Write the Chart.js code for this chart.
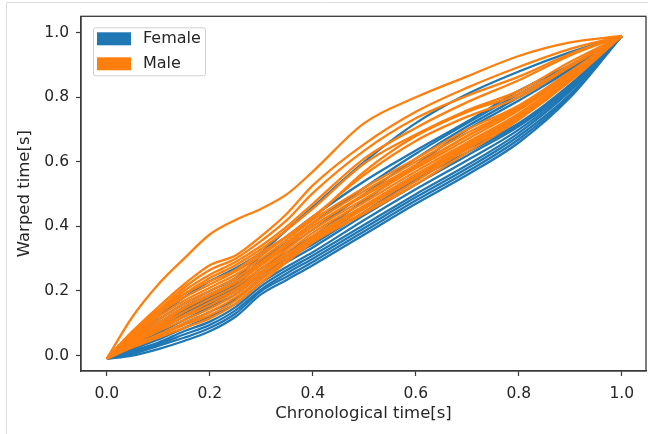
<!DOCTYPE html>
<html>
<head>
<meta charset="utf-8">
<script src="https://cdn.jsdelivr.net/npm/chart.js@4"></script>
<style>
  html, body { margin: 0; padding: 0; background: #fff; }
  #wrap { width: 648px; height: 434px; position: relative; }
</style>
</head>
<body>
<div id="wrap"><canvas id="chart_warping"></canvas></div>
<script>
// chronological time grid shared by every curve
var timeGrid = [0, 0.05, 0.1, 0.15, 0.2, 0.25, 0.3, 0.35, 0.4, 0.5, 0.6, 0.7, 0.8, 0.9, 1.0];

// warped time, one row per female recording
var femaleCurves = [
  [-0.01, 0.0, 0.02, 0.045, 0.075, 0.12, 0.19, 0.235, 0.28, 0.375, 0.47, 0.56, 0.66, 0.80, 0.99],
  [-0.01, 0.005, 0.03, 0.055, 0.085, 0.13, 0.2, 0.245, 0.29, 0.385, 0.48, 0.57, 0.67, 0.805, 0.99],
  [-0.01, 0.01, 0.035, 0.065, 0.095, 0.14, 0.205, 0.255, 0.30, 0.395, 0.49, 0.58, 0.68, 0.81, 0.99],
  [-0.01, 0.015, 0.04, 0.075, 0.105, 0.15, 0.215, 0.265, 0.31, 0.405, 0.50, 0.59, 0.69, 0.82, 0.99],
  [-0.01, 0.02, 0.05, 0.085, 0.12, 0.16, 0.225, 0.275, 0.32, 0.42, 0.515, 0.605, 0.70, 0.825, 0.99],
  [-0.01, 0.025, 0.06, 0.1, 0.135, 0.175, 0.24, 0.29, 0.335, 0.435, 0.53, 0.62, 0.71, 0.83, 0.99],
  [-0.01, 0.03, 0.07, 0.11, 0.15, 0.19, 0.25, 0.30, 0.345, 0.445, 0.545, 0.63, 0.715, 0.835, 0.99],
  [-0.01, 0.035, 0.08, 0.12, 0.16, 0.2, 0.26, 0.31, 0.35, 0.46, 0.56, 0.64, 0.72, 0.84, 0.99],
  [-0.01, 0.04, 0.085, 0.13, 0.17, 0.21, 0.27, 0.32, 0.37, 0.48, 0.59, 0.70, 0.79, 0.885, 0.99],
  [-0.01, 0.045, 0.09, 0.14, 0.18, 0.22, 0.285, 0.335, 0.39, 0.50, 0.61, 0.71, 0.80, 0.89, 0.99],
  [-0.01, 0.05, 0.1, 0.15, 0.19, 0.23, 0.295, 0.35, 0.41, 0.52, 0.625, 0.72, 0.81, 0.895, 0.99],
  [-0.01, 0.055, 0.11, 0.16, 0.2, 0.24, 0.31, 0.37, 0.43, 0.54, 0.635, 0.725, 0.82, 0.90, 0.99],
  [-0.01, 0.06, 0.12, 0.18, 0.23, 0.27, 0.32, 0.39, 0.46, 0.60, 0.72, 0.81, 0.88, 0.94, 0.99]
];

// warped time, one row per male recording
var maleCurves = [
  [-0.01, 0.12, 0.22, 0.30, 0.375, 0.42, 0.455, 0.50, 0.57, 0.72, 0.80, 0.865, 0.928, 0.97, 0.99],
  [-0.01, 0.075, 0.15, 0.22, 0.28, 0.31, 0.37, 0.44, 0.527, 0.655, 0.755, 0.83, 0.894, 0.95, 0.99],
  [-0.01, 0.07, 0.14, 0.21, 0.265, 0.30, 0.355, 0.42, 0.503, 0.635, 0.735, 0.805, 0.864, 0.935, 0.99],
  [-0.01, 0.065, 0.135, 0.2, 0.25, 0.29, 0.34, 0.40, 0.47, 0.61, 0.705, 0.785, 0.853, 0.93, 0.99],
  [-0.01, 0.06, 0.13, 0.19, 0.24, 0.28, 0.33, 0.39, 0.455, 0.595, 0.685, 0.76, 0.82, 0.91, 0.99],
  [-0.01, 0.07, 0.13, 0.18, 0.22, 0.26, 0.31, 0.37, 0.43, 0.56, 0.665, 0.74, 0.80, 0.895, 0.99],
  [-0.01, 0.075, 0.14, 0.19, 0.23, 0.265, 0.32, 0.37, 0.425, 0.57, 0.68, 0.755, 0.81, 0.90, 0.99],
  [-0.01, 0.06, 0.12, 0.17, 0.21, 0.25, 0.30, 0.36, 0.42, 0.52, 0.61, 0.70, 0.775, 0.88, 0.99],
  [-0.01, 0.055, 0.11, 0.16, 0.20, 0.24, 0.29, 0.35, 0.41, 0.51, 0.60, 0.69, 0.77, 0.875, 0.99],
  [-0.01, 0.05, 0.10, 0.15, 0.19, 0.23, 0.285, 0.345, 0.40, 0.50, 0.59, 0.68, 0.765, 0.875, 0.99],
  [-0.01, 0.05, 0.095, 0.145, 0.185, 0.225, 0.28, 0.34, 0.40, 0.495, 0.585, 0.68, 0.77, 0.875, 0.99],
  [-0.01, 0.045, 0.09, 0.135, 0.175, 0.215, 0.27, 0.33, 0.39, 0.485, 0.58, 0.67, 0.76, 0.87, 0.99],
  [-0.01, 0.04, 0.085, 0.125, 0.165, 0.205, 0.26, 0.32, 0.38, 0.475, 0.57, 0.66, 0.75, 0.865, 0.99],
  [-0.01, 0.04, 0.08, 0.12, 0.155, 0.2, 0.255, 0.31, 0.365, 0.46, 0.555, 0.65, 0.745, 0.86, 0.99],
  [-0.01, 0.035, 0.075, 0.11, 0.145, 0.19, 0.25, 0.31, 0.37, 0.465, 0.56, 0.655, 0.745, 0.86, 0.99],
  [-0.01, 0.03, 0.065, 0.10, 0.135, 0.18, 0.24, 0.30, 0.36, 0.455, 0.55, 0.645, 0.74, 0.855, 0.99],
  [-0.01, 0.03, 0.06, 0.095, 0.125, 0.17, 0.235, 0.295, 0.355, 0.445, 0.54, 0.64, 0.735, 0.855, 0.99],
  [-0.01, 0.025, 0.055, 0.085, 0.115, 0.16, 0.225, 0.29, 0.35, 0.44, 0.53, 0.63, 0.73, 0.85, 0.99]
];

var groupLabels = ['Female', 'Male'];
var groupColors = ['#1f77b4', '#ff7f0e'];
var xTicks = [0.0, 0.2, 0.4, 0.6, 0.8, 1.0];
var yTicks = [0.0, 0.2, 0.4, 0.6, 0.8, 1.0];

var FONT = 'DejaVu Sans';
var TEXT = '#262626';
var SPINE = '#3a3a3a';

function toPoints(row) {
  return row.map(function (v, i) { return { x: timeGrid[i], y: v }; });
}

var datasets = [];
femaleCurves.forEach(function (row) {
  datasets.push({ label: groupLabels[0], data: toPoints(row), borderColor: groupColors[0], order: 2 });
});
maleCurves.forEach(function (row) {
  datasets.push({ label: groupLabels[1], data: toPoints(row), borderColor: groupColors[1], order: 1 });
});

var chart_warping = new Chart(document.getElementById('chart_warping'), {
  type: 'line',
  data: { datasets: datasets },
  options: {
    animation: false,
    responsive: true,
    maintainAspectRatio: false,
    layout: { padding: { left: 0, right: 2, top: 6, bottom: 0 } },
    elements: {
      point: { radius: 0, hoverRadius: 0 },
      line: { borderWidth: 2.3, cubicInterpolationMode: 'monotone', fill: false }
    },
    plugins: {
      legend: { display: false },
      tooltip: { enabled: false }
    },
    scales: {
      x: {
        type: 'linear',
        min: -0.05,
        max: 1.047,
        afterBuildTicks: function (scale) {
          scale.ticks = xTicks.map(function (v) { return { value: v }; });
        },
        afterFit: function (scale) { scale.height = 63; },
        grid: { drawOnChartArea: false, drawTicks: true, tickLength: 5, tickWidth: 1.2, tickColor: SPINE },
        border: { display: true, color: SPINE, width: 1.3 },
        ticks: {
          maxRotation: 0,
          padding: 9,
          color: TEXT,
          font: { family: FONT, size: 15.5 },
          callback: function (v) { return v.toFixed(1); }
        },
        title: {
          display: true,
          text: 'Chronological time[s]',
          color: TEXT,
          font: { family: FONT, size: 16.5 },
          padding: { top: 0, bottom: 10 }
        }
      },
      y: {
        type: 'linear',
        min: -0.048,
        max: 1.051,
        afterBuildTicks: function (scale) {
          scale.ticks = yTicks.map(function (v) { return { value: v }; });
        },
        afterFit: function (scale) { scale.width = 81; },
        grid: { drawOnChartArea: false, drawTicks: true, tickLength: 5, tickWidth: 1.2, tickColor: SPINE },
        border: { display: true, color: SPINE, width: 1.3 },
        ticks: {
          padding: 7,
          color: TEXT,
          font: { family: FONT, size: 15.5 },
          callback: function (v) { return v.toFixed(1); }
        },
        title: {
          display: true,
          text: 'Warped time[s]',
          color: TEXT,
          font: { family: FONT, size: 16.5 },
          padding: { top: 15, bottom: 0 }
        }
      }
    }
  },
  plugins: [{
    id: 'frameAndLegend',
    beforeDraw: function (chart) {
      var ctx = chart.ctx;
      ctx.save();
      ctx.fillStyle = 'white';
      ctx.fillRect(0, 0, chart.width, chart.height);
      // light outline of the screenshot
      ctx.strokeStyle = '#dcdcdc';
      ctx.lineWidth = 1;
      ctx.beginPath();
      ctx.moveTo(6.5, 434);
      ctx.lineTo(6.5, 2.5);
      ctx.lineTo(648, 2.5);
      ctx.stroke();
      ctx.restore();
    },
    afterDraw: function (chart) {
      var ctx = chart.ctx;
      var a = chart.chartArea;
      ctx.save();
      // remaining spines (top and right)
      ctx.strokeStyle = SPINE;
      ctx.lineWidth = 1.3;
      ctx.strokeRect(a.left, a.top, a.right - a.left, a.bottom - a.top);

      // legend inside the axes, upper left
      var bx = a.left + 12, by = a.top + 11, bw = 112, bh = 48;
      ctx.fillStyle = 'rgba(255,255,255,0.8)';
      ctx.strokeStyle = '#d0d0d0';
      ctx.lineWidth = 1;
      ctx.beginPath();
      ctx.roundRect(bx + 0.5, by + 0.5, bw, bh, 2);
      ctx.fill();
      ctx.stroke();
      ctx.font = '16px "' + FONT + '"';
      ctx.textBaseline = 'middle';
      groupLabels.forEach(function (lab, i) {
        var rowY = by + 5 + i * 25;
        ctx.fillStyle = groupColors[i];
        ctx.fillRect(bx + 4, rowY, 34, 13);
        ctx.fillStyle = TEXT;
        ctx.fillText(lab, bx + 50, rowY + 7);
      });
      ctx.restore();
    }
  }]
});
</script>
</body>
</html>
